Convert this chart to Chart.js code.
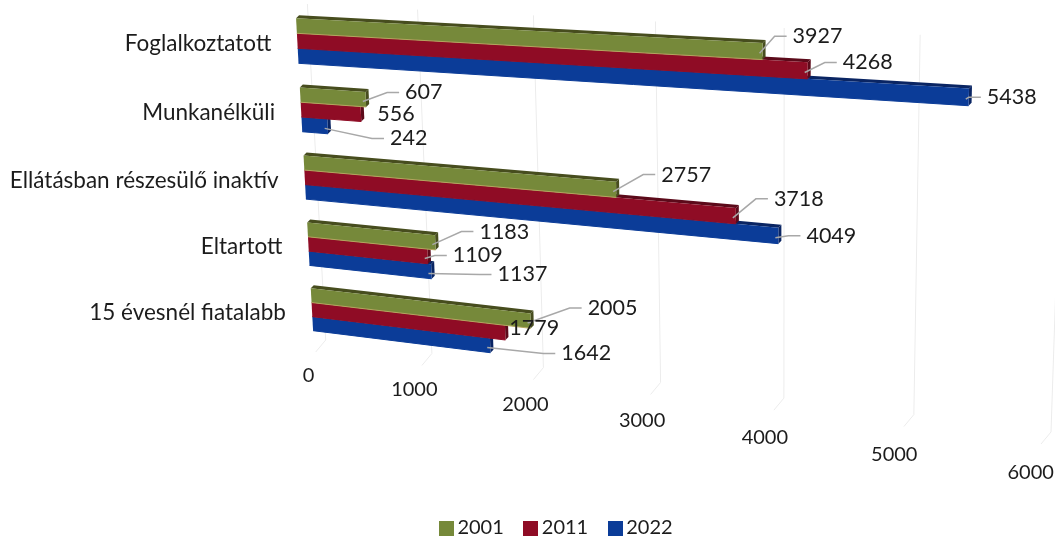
<!DOCTYPE html>
<html>
<head>
<meta charset="utf-8">
<title>Népesség gazdasági aktivitás szerint</title>
<script src="https://cdn.jsdelivr.net/npm/chart.js@4"></script>
<style>
  html, body { margin: 0; padding: 0; background: #fff; }
  #wrap { width: 1055px; height: 539px; }
</style>
</head>
<body>
<div id="wrap"><canvas id="chart"></canvas></div>
<script>
// Categories and series values (thousand persons)
const categories = ['Foglalkoztatott', 'Munkanélküli', 'Ellátásban részesülő inaktív', 'Eltartott', '15 évesnél fiatalabb'];
const values2001 = [3927, 607, 2757, 1183, 2005];
const values2011 = [4268, 556, 3718, 1109, 1779];
const values2022 = [5438, 242, 4049, 1137, 1642];
const xTicks = [0, 1000, 2000, 3000, 4000, 5000, 6000];

// Where the value labels sit relative to the end of their bar
const labelOffsets = [
  [[55, -15], [58, -7], [70, -15], [69, -11], [82, -13]],
  [[60, -8], [35, 0], [63, -17], [50, -1], [29, -5]],
  [[43, 0], [81, 12], [53, 0], [91, 3], [96, 8]]
];

const FONT = 'Lato, "Open Sans", sans-serif';
const TEXT_COLOR = '#1c1c1c';
const DEPTH = { x: 3, y: -3 };

// Corners of the tilted plot plane on the canvas: top-left, top-right, bottom-left, bottom-right
const CORNERS = [[295.4, 6], [1052, 44], [313.7, 342], [1039, 434]];

// Darker shade for the top and end faces of each series colour
const SHADES = { '#76893a': '#474d1e', '#8f0c25': '#5c0a1a', '#0b3c98': '#0a2563' };

// Homography from the unit square to the plane corners
const projector = (function () {
  const [A, B, C, D] = CORNERS;
  const dx1 = B[0] - D[0], dx2 = C[0] - D[0], sx = A[0] - B[0] + D[0] - C[0];
  const dy1 = B[1] - D[1], dy2 = C[1] - D[1], sy = A[1] - B[1] + D[1] - C[1];
  const den = dx1 * dy2 - dx2 * dy1;
  const g = (sx * dy2 - dx2 * sy) / den;
  const h = (dx1 * sy - sx * dy1) / den;
  return function (u, v) {
    const w = 1 + g * u + h * v;
    return {
      x: ((B[0] - A[0] + g * B[0]) * u + (C[0] - A[0] + h * C[0]) * v + A[0]) / w,
      y: ((B[1] - A[1] + g * B[1]) * u + (C[1] - A[1] + h * C[1]) * v + A[1]) / w
    };
  };
})();

let plotArea = null;

// Scale pixel -> position on the tilted plane
function project(px, py) {
  return projector((px - plotArea.left) / plotArea.width, (py - plotArea.top) / plotArea.height);
}

function fillPoly(ctx, pts, color) {
  ctx.fillStyle = color;
  ctx.beginPath();
  pts.forEach((p, i) => i ? ctx.lineTo(p.x, p.y) : ctx.moveTo(p.x, p.y));
  ctx.closePath();
  ctx.fill();
}

function shift(p) {
  return { x: p.x + DEPTH.x, y: p.y + DEPTH.y };
}

// Bars are drawn as boxes on the tilted plane, from the geometry the bar controller computes
Chart.BarElement.prototype.draw = function (ctx) {
  const { x, y, base, height } = this.getProps(['x', 'y', 'base', 'height']);
  const opts = this.options;
  const shade = SHADES[opts.backgroundColor];
  const tl = project(base, y - height / 2);
  const tr = project(x, y - height / 2);
  const br = project(x, y + height / 2);
  const bl = project(base, y + height / 2);
  fillPoly(ctx, [tl, tr, shift(tr), shift(tl)], shade);
  fillPoly(ctx, [tr, br, shift(br), shift(tr)], shade);
  fillPoly(ctx, [tl, tr, br, bl], opts.backgroundColor);
  ctx.strokeStyle = opts.borderColor;
  ctx.lineWidth = 1;
  ctx.beginPath();
  ctx.moveTo(bl.x, bl.y);
  ctx.lineTo(br.x, br.y);
  ctx.stroke();
};

// Faint grid, tick labels and category labels
const axesPlugin = {
  id: 'tiltedAxes',
  beforeDatasetsDraw(chart) {
    const { ctx, scales, chartArea } = chart;
    plotArea = chartArea;
    ctx.save();
    ctx.strokeStyle = '#ececec';
    ctx.lineWidth = 1;
    xTicks.forEach(t => {
      const px = scales.x.getPixelForValue(t);
      const top = project(px, chartArea.top);
      const bottom = project(px, chartArea.bottom);
      ctx.beginPath();
      ctx.moveTo(top.x + 12, top.y - 2);
      ctx.lineTo(bottom.x + 12, bottom.y - 2);
      ctx.lineTo(bottom.x + 2, bottom.y + 10);
      ctx.stroke();
    });
    ctx.fillStyle = TEXT_COLOR;
    ctx.font = '20px ' + FONT;
    ctx.textAlign = 'center';
    ctx.textBaseline = 'middle';
    xTicks.forEach(t => {
      const p = project(scales.x.getPixelForValue(t), chartArea.bottom + chartArea.height * 0.105);
      ctx.fillText(String(t), p.x - 7, p.y);
    });
    ctx.textAlign = 'right';
    ctx.font = '22.5px ' + FONT;
    categories.forEach((c, i) => {
      const p = project(scales.x.getPixelForValue(0), scales.y.getPixelForValue(i));
      ctx.fillText(c, p.x - 26, p.y + 3);
    });
    ctx.restore();
  },
  afterDatasetsDraw(chart) {
    const { ctx } = chart;
    ctx.save();
    ctx.textAlign = 'center';
    ctx.textBaseline = 'middle';
    ctx.font = '21.5px ' + FONT;
    chart.data.datasets.forEach((ds, d) => {
      chart.getDatasetMeta(d).data.forEach((el, i) => {
        const end = project(el.x, el.y);
        const [ox, oy] = labelOffsets[d][i];
        const lx = end.x + ox, ly = end.y + oy;
        const left = lx - ctx.measureText(String(ds.data[i])).width / 2;
        if (left - end.x > 18) {
          // leader line with a short horizontal run into the label
          ctx.strokeStyle = '#a8a8a8';
          ctx.lineWidth = 1.5;
          ctx.beginPath();
          ctx.moveTo(end.x - 3, end.y + 2);
          ctx.lineTo(left - 18, ly);
          ctx.lineTo(left - 6, ly);
          ctx.stroke();
        }
        ctx.fillStyle = TEXT_COLOR;
        ctx.fillText(String(ds.data[i]), lx, ly);
      });
    });
    ctx.restore();
  }
};

// Square legend swatch that can sit closer to its text than the default box
function swatch(color) {
  const c = document.createElement('canvas');
  c.width = 15;
  c.height = 15;
  const g = c.getContext('2d');
  g.fillStyle = color;
  g.fillRect(0, 0, 15, 15);
  return c;
}

new Chart(document.getElementById('chart'), {
  type: 'bar',
  data: {
    labels: categories,
    datasets: [
      { label: '2001', data: values2001, backgroundColor: '#76893a', borderColor: '#b3a65e' },
      { label: '2011', data: values2011, backgroundColor: '#8f0c25', borderColor: '#8f0c25' },
      { label: '2022', data: values2022, backgroundColor: '#0b3c98', borderColor: '#0b3c98' }
    ]
  },
  plugins: [axesPlugin],
  options: {
    indexAxis: 'y',
    responsive: true,
    maintainAspectRatio: false,
    animation: false,
    categoryPercentage: 0.65,
    barPercentage: 1,
    layout: { padding: { left: 100, right: 37, bottom: -9 } },
    scales: {
      x: { display: false, min: 0, max: 6000 },
      y: { display: false }
    },
    plugins: {
      tooltip: { enabled: false },
      legend: {
        position: 'bottom',
        fullSize: false,
        labels: {
          color: TEXT_COLOR,
          font: { size: 20, family: FONT },
          padding: 26,
          usePointStyle: true,
          pointStyleWidth: 2,
          generateLabels(chart) {
            return chart.data.datasets.map((ds, i) => ({
              text: ds.label,
              datasetIndex: i,
              fontColor: TEXT_COLOR,
              lineWidth: 0,
              pointStyle: swatch(ds.backgroundColor)
            }));
          }
        }
      }
    }
  }
});
</script>
</body>
</html>
